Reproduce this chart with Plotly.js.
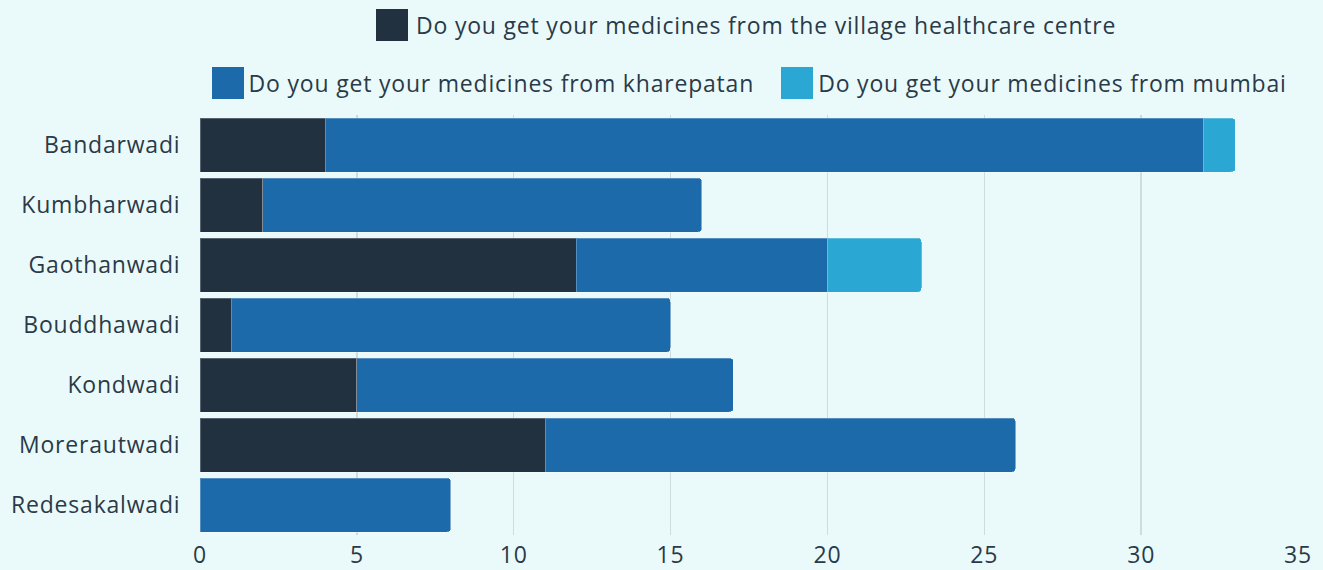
<!DOCTYPE html>
<html>
<head>
<meta charset="utf-8">
<script src="https://cdn.plot.ly/plotly-3.0.1.min.js"></script>
<style>
  html, body { margin: 0; padding: 0; background: #eafafb; }
  #chart { width: 1323px; height: 570px; }
  #chart text { letter-spacing: 0.8px; }
</style>
</head>
<body>
<div id="chart"></div>
<script>
const categories = ["Bandarwadi", "Kumbharwadi", "Gaothanwadi", "Bouddhawadi", "Kondwadi", "Morerautwadi", "Redesakalwadi"];
const seriesNames = [
  "Do you get your medicines from the village healthcare centre",
  "Do you get your medicines from kharepatan",
  "Do you get your medicines from mumbai"
];
const villageCentre = [4, 2, 12, 1, 5, 11, 0];
const kharepatan = [28, 14, 8, 14, 12, 15, 8];
const mumbai = [1, 0, 3, 0, 0, 0, 0];
const xTicks = [0, 5, 10, 15, 20, 25, 30, 35];

const colors = ["#21313f", "#1d6aab", "#2aa8d3"];
const FONT = "'Open Sans', Lato, sans-serif";
const TEXT = "#2b3a48";

const W = 1323, H = 570;
const M = { l: 200, r: 25, t: 115, b: 35 };
const pw = W - M.l - M.r, ph = H - M.t - M.b;
const px = x => (x - M.l) / pw;
const py = y => (H - M.b - y) / ph;

const values = [villageCentre, kharepatan, mumbai];
const traces = values.map((v, i) => ({
  type: "bar",
  orientation: "h",
  name: seriesNames[i],
  y: categories,
  x: v,
  marker: { color: colors[i], line: { color: "rgba(255,255,255,0.25)", width: 1 } },
  hoverinfo: "x+y+name"
}));

// custom legend (two centred rows, large square swatches)
const legendItems = [
  { idx: 0, sx: 376, tx: 766, cy: 25 },
  { idx: 1, sx: 212, tx: 501, cy: 83 },
  { idx: 2, sx: 781, tx: 1052, cy: 83 }
];
const shapes = [], annotations = [];
legendItems.forEach(it => {
  shapes.push({
    type: "rect", xref: "paper", yref: "paper",
    x0: px(it.sx), x1: px(it.sx + 32),
    y0: py(it.cy + 16), y1: py(it.cy - 16),
    fillcolor: colors[it.idx], line: { width: 0 }
  });
  annotations.push({
    xref: "paper", yref: "paper",
    x: px(it.tx), y: py(it.cy),
    xanchor: "center", yanchor: "middle",
    text: seriesNames[it.idx], showarrow: false,
    font: { family: FONT, size: 23, color: TEXT }
  });
});

const layout = {
  width: W, height: H,
  margin: M,
  barmode: "stack",
  bargap: 0.1,
  barcornerradius: 4,
  paper_bgcolor: "#eafafb",
  plot_bgcolor: "#eafafb",
  showlegend: false,
  font: { family: FONT, color: TEXT, size: 23 },
  xaxis: {
    range: [0, 35],
    tickvals: xTicks,
    ticktext: xTicks.map(String),
    showgrid: true,
    gridcolor: "#cfdcdd",
    gridwidth: 1.5,
    zeroline: false,
    showline: false,
    ticks: "",
    ticklabelstandoff: 4,
    tickfont: { family: FONT, size: 23, color: TEXT }
  },
  yaxis: {
    autorange: "reversed",
    showgrid: false,
    zeroline: false,
    showline: false,
    ticks: "outside",
    ticklen: 14,
    tickcolor: "rgba(0,0,0,0)",
    tickfont: { family: FONT, size: 23, color: TEXT }
  },
  shapes: shapes,
  annotations: annotations
};

Plotly.newPlot("chart", traces, layout, { displayModeBar: false, staticPlot: true });
</script>
</body>
</html>
